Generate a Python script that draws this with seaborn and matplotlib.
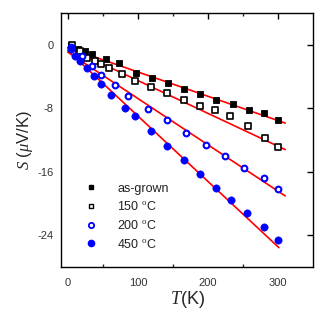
import numpy as np
import pandas as pd
import seaborn as sns
import matplotlib
matplotlib.use("Agg")
import matplotlib.pyplot as plt
from matplotlib.lines import Line2D

sns.set_theme(style="white")
plt.rcParams['font.family'] = ['Liberation Sans', 'DejaVu Sans']
plt.rcParams['mathtext.fontset'] = 'custom'
plt.rcParams['mathtext.rm'] = 'Liberation Serif'
plt.rcParams['mathtext.it'] = 'Liberation Serif:italic'

# ---- data ----
labels = ["as-grown", "150 $^{\\rm o}$C", "200 $^{\\rm o}$C", "450 $^{\\rm o}$C"]

T_asgrown = [5, 15, 25, 35, 54, 73, 97, 120, 143, 165, 188, 211, 235, 258, 280, 300]
S_asgrown = [0, -0.5, -0.75, -1.15, -1.8, -2.3, -3.5, -4.15, -4.8, -5.5, -6.2, -6.9, -7.5, -8.15, -8.6, -9.5]

T_150 = [6, 17, 28, 39, 48, 59, 77, 96, 119, 142, 165, 188, 210, 231, 257, 281, 300]
S_150 = [0, -0.8, -1.6, -2.0, -2.4, -2.9, -3.6, -4.5, -5.25, -6.0, -6.9, -7.75, -8.25, -9.0, -10.2, -11.7, -12.9]

T_200 = [5, 20, 34, 48, 68, 86, 115, 142, 169, 197, 224, 251, 280, 299]
S_200 = [-0.3, -1.4, -2.6, -3.75, -5.0, -6.4, -8.1, -9.5, -11.1, -12.6, -14.0, -15.5, -16.8, -18.2]

T_450 = [5, 11, 17, 27, 37, 47, 62, 82, 96, 119, 142, 165, 189, 211, 233, 256, 280, 300]
S_450 = [-0.5, -1.4, -2.0, -2.9, -3.9, -4.9, -6.25, -7.95, -9.0, -10.8, -12.7, -14.5, -16.3, -18.0, -19.6, -21.25, -22.9, -24.6]

# linear fits: S = a + b*T over [t0, t1]
fit_a = [-0.33, -0.33, -0.9, -0.7]
fit_b = [-0.0307, -0.0415, -0.0585, -0.0826]
fit_t0 = [0, 0, 0, 0]
fit_t1 = [310, 310, 310, 301]

xticks = [0, 100, 200, 300]
yticks = [0, -8, -16, -24]

# ---- figure ----
fig = plt.figure(figsize=(3.24, 3.23), dpi=100)
ax = fig.add_axes([0.1875, 0.1734, 0.7795, 0.7854])

series = [(T_asgrown, S_asgrown), (T_150, S_150), (T_200, S_200), (T_450, S_450)]
styles = [
    dict(marker='s', edgecolor='black', facecolor='black', s=20, linewidth=0.6),
    dict(marker='s', edgecolor='black', facecolor='white', s=18, linewidth=1.2),
    dict(marker='o', edgecolor='#0000ff', facecolor='white', s=17, linewidth=1.5),
    dict(marker='o', edgecolor='#0000ff', facecolor='#0000ff', s=28, linewidth=0.4),
]

# fit lines
for a, b, t0, t1 in zip(fit_a, fit_b, fit_t0, fit_t1):
    tt = np.array([t0, t1], dtype=float)
    dfl = pd.DataFrame({"T": tt, "S": a + b * tt})
    sns.lineplot(data=dfl, x="T", y="S", ax=ax, color='red', linewidth=1.2, zorder=3, legend=False)

for (t, s), st, lab in zip(series, styles, labels):
    df = pd.DataFrame({"T": t, "S": s})
    sns.scatterplot(data=df, x="T", y="S", ax=ax, marker=st['marker'], s=st['s'],
                    facecolor=st['facecolor'], edgecolor=st['edgecolor'],
                    linewidth=st['linewidth'], zorder=4, legend=False)

ax.set_xlim(-10, 350)
ax.set_ylim(-28, 4)
ax.set_xticks(xticks)
ax.set_yticks(yticks)
ax.set_xticklabels([str(v) for v in xticks])
ax.set_yticklabels([str(v) for v in yticks])
ax.set_xticks([50, 150, 250], minor=True)

for sp in ax.spines.values():
    sp.set_visible(True)
    sp.set_color('black')
    sp.set_linewidth(1.0)

ax.tick_params(axis='both', which='major', direction='in', length=4, width=1.0,
               top=True, right=True, labelsize=8, colors='black')
ax.tick_params(axis='x', which='major', pad=8)
ax.tick_params(axis='y', which='major', pad=5)
ax.tick_params(axis='x', which='minor', direction='in', length=2, width=1.0, top=True, bottom=True)
for lab in ax.get_xticklabels() + ax.get_yticklabels():
    lab.set_color('#333333')

ax.set_xlabel("$T$(K)", fontsize=13, labelpad=1)
ax.set_ylabel("$S$ ($\\mu$V/K)", fontsize=12, labelpad=2)

# legend
handles = [
    Line2D([], [], linestyle='none', marker='s', markersize=3.5, markerfacecolor='black', markeredgecolor='black'),
    Line2D([], [], linestyle='none', marker='s', markersize=3.5, markerfacecolor='white', markeredgecolor='black', markeredgewidth=1.0),
    Line2D([], [], linestyle='none', marker='o', markersize=3.8, markerfacecolor='white', markeredgecolor='#0000ff', markeredgewidth=1.3),
    Line2D([], [], linestyle='none', marker='o', markersize=4.5, markerfacecolor='#0000ff', markeredgecolor='#0000ff'),
]
leg = ax.legend(handles, labels, loc='lower left', bbox_to_anchor=(0.055, 0.03), frameon=False,
                fontsize=9, handlelength=1.2, handletextpad=1.5, labelspacing=0.45, borderpad=0.2)
for t in leg.get_texts():
    t.set_color('#222222')

fig.savefig("out.png", dpi=100)
